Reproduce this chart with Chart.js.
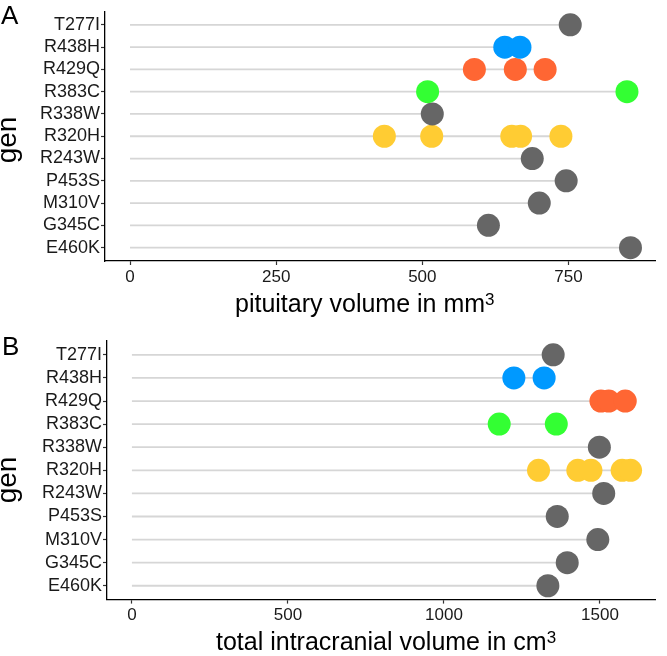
<!DOCTYPE html>
<html>
<head>
<meta charset="utf-8">
<script src="https://cdn.jsdelivr.net/npm/chart.js@4.4.1/dist/chart.umd.min.js"></script>
<style>
  body { margin: 0; background: #fff; }
  #wrap { position: relative; width: 667px; height: 656px; overflow: hidden; font-family: "Liberation Sans", Arial, sans-serif; }
  canvas { position: absolute; left: 0; }
  .lbl { position: absolute; line-height: 1; color: #000; white-space: nowrap; }
  .panel { font-size: 26px; }
  .xtitle { font-size: 25px; }
  .xtitle span { font-size: 17px; position: relative; top: -7px; }
  .ytitle { font-size: 28px; width: 80px; text-align: center; transform: rotate(-90deg); }
</style>
</head>
<body>
<div id="wrap">
  <canvas id="chartA" width="667" height="320" style="top:0px"></canvas>
  <canvas id="chartB" width="667" height="336" style="top:320px"></canvas>
  <div class="lbl panel" style="left:1px; top:2px">A</div>
  <div class="lbl panel" style="left:2px; top:333px">B</div>
  <div class="lbl ytitle" style="left:-33px; top:126px">gen</div>
  <div class="lbl ytitle" style="left:-33px; top:466px">gen</div>
  <div class="lbl xtitle" style="left:235px; top:290.5px">pituitary volume in mm<span>3</span></div>
  <div class="lbl xtitle" style="left:216px; top:629px">total intracranial volume in cm<span>3</span></div>
</div>
<script>
const genes = ['T277I', 'R438H', 'R429Q', 'R383C', 'R338W', 'R320H', 'R243W', 'P453S', 'M310V', 'G345C', 'E460K'];
const geneColors = ['#666666', '#0099FF', '#FF6633', '#33FF33', '#666666', '#FFCC33', '#666666', '#666666', '#666666', '#666666', '#666666'];

// one list of patients per gene, same order as genes
const pituitaryVolume = [
  [753], [641, 667], [589, 659, 710], [509, 850], [517],
  [435, 516, 653, 668, 737], [688], [746], [700], [613], [856]
];
const intracranialVolume = [
  [1350], [1224, 1321], [1503, 1528, 1581], [1177, 1360], [1498],
  [1303, 1429, 1471, 1571, 1598], [1512], [1363], [1493], [1395], [1333]
];

const pituitaryTicks = [0, 250, 500, 750];
const intracranialTicks = [0, 500, 1000, 1500];

const fontFamily = '"Liberation Sans", Arial, sans-serif';

function buildDatasets(values) {
  const sets = [];
  values.forEach((vals, i) => {
    // grey stem from 0 to the largest value of the row
    sets.push({
      data: [{ x: 0, y: i }, { x: Math.max(...vals), y: i }],
      showLine: true,
      borderColor: '#d6d6d6',
      borderWidth: 1.8,
      pointRadius: 0,
      pointHoverRadius: 0,
      order: 2
    });
    sets.push({
      data: vals.map(v => ({ x: v, y: i })),
      backgroundColor: geneColors[i],
      borderWidth: 0,
      pointRadius: 11.5,
      pointHoverRadius: 11.5,
      order: 1
    });
  });
  return sets;
}

function makePanel(canvasId, values, xTicks, opts) {
  const maxV = Math.max(...values.flat());
  const axisGrid = { drawOnChartArea: false, drawTicks: true, tickLength: 4, tickColor: '#333', tickWidth: 1.2 };
  const axisBorder = { display: true, color: '#000', width: 1.3 };

  return new Chart(document.getElementById(canvasId), {
    type: 'scatter',
    data: { datasets: buildDatasets(values) },
    options: {
      responsive: false,
      animation: false,
      devicePixelRatio: 1,
      layout: { padding: opts.padding },
      plugins: { legend: { display: false }, tooltip: { enabled: false } },
      scales: {
        x: {
          type: 'linear',
          min: -0.05 * maxV,
          max: 1.05 * maxV,
          afterBuildTicks: s => { s.ticks = xTicks.map(v => ({ value: v })); },
          afterFit: s => { s.height = opts.xHeight; s.paddingLeft = 0; s.paddingRight = 0; },
          grid: axisGrid,
          border: axisBorder,
          ticks: {
            color: '#1a1a1a',
            font: { size: 17, family: fontFamily },
            padding: 2,
            maxRotation: 0,
            autoSkip: false,
            callback: v => String(v)
          }
        },
        y: {
          type: 'linear',
          min: -0.6,
          max: genes.length - 0.4,
          reverse: true,
          afterBuildTicks: s => { s.ticks = genes.map((g, i) => ({ value: i })); },
          afterFit: s => { s.width = opts.yWidth; s.paddingTop = 0; s.paddingBottom = 0; },
          grid: axisGrid,
          border: axisBorder,
          ticks: {
            color: '#1a1a1a',
            font: { size: 18, family: fontFamily },
            padding: 1,
            autoSkip: false,
            callback: v => genes[v]
          }
        }
      }
    }
  });
}

makePanel('chartA', pituitaryVolume, pituitaryTicks, {
  padding: { left: 0, right: 4, top: 2, bottom: 0 },
  yWidth: 105,
  xHeight: 59
});

makePanel('chartB', intracranialVolume, intracranialTicks, {
  padding: { left: 0, right: 3, top: 21, bottom: 0 },
  yWidth: 107,
  xHeight: 56.4
});
</script>
</body>
</html>
